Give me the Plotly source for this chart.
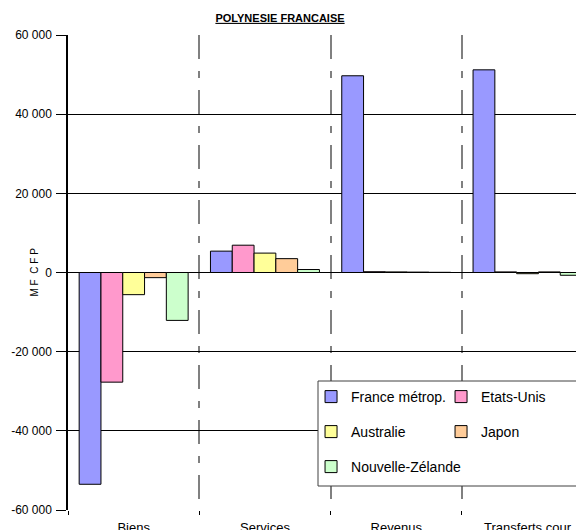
import plotly.graph_objects as go

# categories and series (MF CFP)
categories = ['Biens', 'Services', 'Revenus', 'Transferts cour']
france = [-53500, 5400, 49700, 51200]
etats_unis = [-27700, 6900, 200, 150]
australie = [-5600, 4900, 150, -300]
japon = [-1300, 3500, 100, 150]
nouvelle_zelande = [-12100, 750, 50, -700]

series_names = ['France métrop.', 'Etats-Unis', 'Australie', 'Japon', 'Nouvelle-Zélande']
series_values = [france, etats_unis, australie, japon, nouvelle_zelande]
series_colors = ['#9999FF', '#FF99CC', '#FFFF99', '#FFCC99', '#CCFFCC']
# which legend row each series sits in
series_legend = ['legend', 'legend', 'legend2', 'legend2', 'legend3']

ytick_vals = [-60000, -40000, -20000, 0, 20000, 40000, 60000]
ytick_text = ['-60 000', '-40 000', '-20 000', '0', '20 000', '40 000', '60 000']

font_family = 'Liberation Sans, Arial, sans-serif'

# the page body adds an 8px margin, so the figure is a bit smaller than the window
W, H = 576, 522
ML, MT, MB = 60, 27, 20
plot_w = W - ML
plot_h = H - MT - MB

fig = go.Figure()
for name, vals, col, leg in zip(series_names, series_values, series_colors, series_legend):
    fig.add_trace(go.Bar(
        x=categories,
        y=vals,
        name=name,
        marker=dict(color=col, line=dict(color='black', width=1)),
        legend=leg,
    ))

# one legend per row, boxed by a single rectangle
legend_common = dict(
    orientation='h',
    x=0.471,
    xanchor='left',
    yanchor='middle',
    entrywidth=85,
    bgcolor='rgba(0,0,0,0)',
    borderwidth=0,
    font=dict(family=font_family, size=14, color='black'),
    itemclick=False,
)

def row_y(win_y):
    # window pixel row -> paper coordinate
    return (H - MB - (win_y - 8)) / plot_h

fig.update_layout(
    width=W,
    height=H,
    margin=dict(l=ML, r=0, t=MT, b=MB, autoexpand=False),
    paper_bgcolor='white',
    plot_bgcolor='white',
    barmode='group',
    bargap=0.17,
    bargroupgap=0,
    font=dict(family=font_family, size=12, color='black'),
    title=dict(
        text='<b><u>POLYNESIE FRANCAISE</u></b>',
        x=272 / W,
        xanchor='center',
        xref='container',
        y=1 - 10 / H,
        yref='container',
        yanchor='middle',
        font=dict(family=font_family, size=11, color='black'),
    ),
    xaxis=dict(
        range=[-0.5, 3.43],
        automargin=False,
        showgrid=True,
        tickson='boundaries',
        gridcolor='#808080',
        gridwidth=1.5,
        griddash='24px,12px,7px,12px',
        ticks='outside',
        ticklen=4,
        tickcolor='black',
        ticklabelstandoff=8,
        showline=False,
        zeroline=False,
        tickfont=dict(size=13),
    ),
    yaxis=dict(
        range=[-60000, 60000],
        automargin=False,
        tickvals=ytick_vals,
        ticktext=ytick_text,
        showgrid=True,
        gridcolor='black',
        gridwidth=1,
        zeroline=True,
        zerolinecolor='black',
        zerolinewidth=1,
        showline=True,
        linecolor='black',
        linewidth=1.5,
        ticks='outside',
        ticklen=10,
        tickcolor='black',
        ticklabelstandoff=2,
        tickfont=dict(size=12),
    ),
    annotations=[dict(
        text='M F  C F P',
        textangle=-90,
        xref='paper', yref='paper',
        x=(26 - ML) / plot_w, y=0.5,
        xanchor='center', yanchor='middle',
        showarrow=False,
        font=dict(family=font_family, size=10, color='black'),
    )],
    legend=dict(legend_common, y=row_y(397)),
    legend2=dict(legend_common, y=row_y(432)),
    legend3=dict(legend_common, y=row_y(467), entrywidth=130),
    shapes=[dict(
        type='rect',
        xref='paper', yref='paper',
        x0=(310 - ML) / plot_w, x1=1.02,
        y0=row_y(486), y1=row_y(381),
        fillcolor='white',
        line=dict(color='#404040', width=1),
        layer='above',
    )],
)

fig.write_html('out.html')
